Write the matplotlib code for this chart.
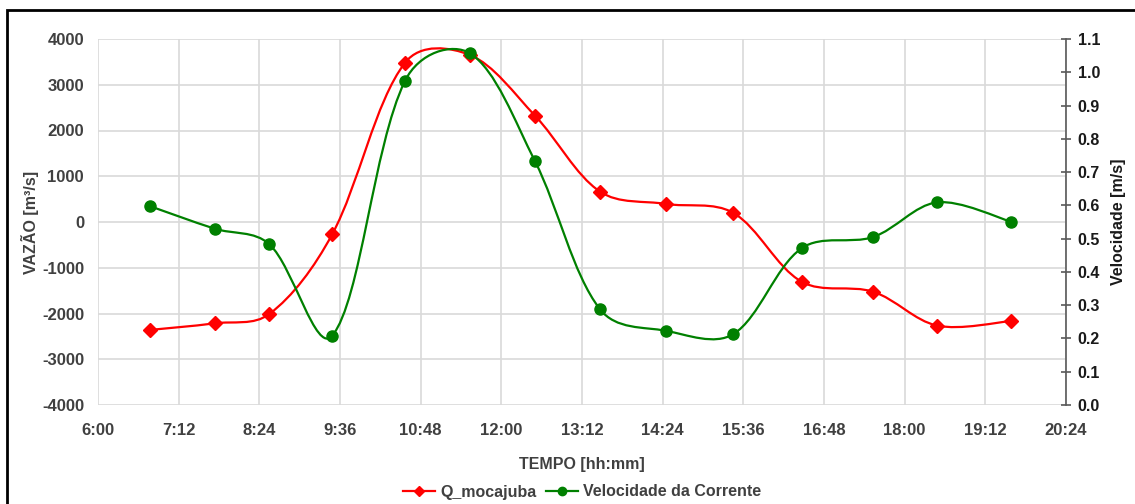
import matplotlib
matplotlib.use("Agg")
import matplotlib.pyplot as plt
import numpy as np
from matplotlib.path import Path
from matplotlib.patches import PathPatch, Rectangle
from matplotlib.lines import Line2D

plt.rcParams['font.family'] = ['Liberation Sans', 'DejaVu Sans']
plt.rcParams['axes.unicode_minus'] = False

# data
horarios = ["6:46", "7:44", "8:33", "9:29", "10:34", "11:32", "12:30",
            "13:28", "14:27", "15:27", "16:28", "17:32", "18:29", "19:35"]
q_mocajuba = [-2360, -2215, -2010, -270, 3480, 3650, 2325,
              665, 395, 200, -1305, -1525, -2265, -2165]
velocidade = [0.598, 0.530, 0.483, 0.208, 0.974, 1.057, 0.733,
              0.288, 0.223, 0.213, 0.471, 0.505, 0.609, 0.551]
xticks_lbl = ["6:00", "7:12", "8:24", "9:36", "10:48", "12:00", "13:12",
              "14:24", "15:36", "16:48", "18:00", "19:12", "20:24"]


def to_hours(s):
    h, m = s.split(":")
    return int(h) + int(m) / 60.0


def smooth_path(axis, x, y, w=0.67):
    # excel-like smoothed line: bezier through the points, tangents
    # partly weighted by segment lengths measured on screen
    p = axis.transData.transform(np.column_stack([x, y]))
    n = len(p)
    verts = [p[0]]
    codes = [Path.MOVETO]
    for i in range(n - 1):
        p0 = p[i - 1] if i > 0 else p[i]
        p1 = p[i]
        p2 = p[i + 1]
        p3 = p[i + 2] if i + 2 < n else p[i + 1]
        d01 = np.hypot(*(p1 - p0))
        d12 = np.hypot(*(p2 - p1))
        d23 = np.hypot(*(p3 - p2))
        f1 = d12 / (d01 + d12) if d01 > 0 else 0.5
        f2 = d12 / (d12 + d23) if d23 > 0 else 0.5
        f1 = w * f1 + (1 - w) * 0.5
        f2 = w * f2 + (1 - w) * 0.5
        verts += [p1 + (p2 - p0) * f1 / 3.0, p2 - (p3 - p1) * f2 / 3.0, p2]
        codes += [Path.CURVE4] * 3
    verts = axis.transData.inverted().transform(np.array(verts))
    return Path(verts, codes)


t = [to_hours(s) for s in horarios]
xt = [to_hours(s) for s in xticks_lbl]

red = "#ff0000"
green = "#008000"
txt = "#404040"

fig = plt.figure(figsize=(11.35, 5.04), dpi=100)
ax = fig.add_axes([98 / 1135, 99 / 504, 968 / 1135, 366 / 504])
ax2 = ax.twinx()

ax.set_xlim(6.0, 20.4)
ax.set_ylim(-4000, 4000)
ax2.set_ylim(0, 1.1)

ax.set_xticks(xt)
ax.set_xticklabels(xticks_lbl)
ax.set_yticks(np.arange(-4000, 4001, 1000))
ax2.set_yticks(np.arange(0, 1.11, 0.1))
ax2.set_yticklabels(["%.1f" % v for v in np.arange(0, 1.11, 0.1)])

ax.grid(True, color="#d9d9d9", linewidth=1.2)
ax.set_axisbelow(True)
for sp in ax.spines.values():
    sp.set_visible(False)
for sp in ax2.spines.values():
    sp.set_visible(False)
ax2.spines['right'].set_visible(True)
ax2.spines['right'].set_color("#595959")
ax2.spines['right'].set_linewidth(1.2)

ax.tick_params(axis='both', length=0, pad=10, labelsize=12, labelcolor=txt)
ax.tick_params(axis='x', pad=13)
ax2.tick_params(axis='y', direction='inout', length=7, width=1.2, color="#595959",
                labelsize=11.5, labelcolor="#1a1a1a", pad=5)
for lbl in ax.get_xticklabels() + ax.get_yticklabels() + ax2.get_yticklabels():
    lbl.set_fontweight("bold")

# smoothed lines
ax.add_patch(PathPatch(smooth_path(ax, t, q_mocajuba), facecolor="none",
                       edgecolor=red, linewidth=1.6, zorder=3))
ax.plot(t, q_mocajuba, linestyle="none", marker="D", markersize=7,
        color=red, zorder=4)
ax2.add_patch(PathPatch(smooth_path(ax2, t, velocidade), facecolor="none",
                        edgecolor=green, linewidth=1.6, zorder=3))
ax2.plot(t, velocidade, linestyle="none", marker="o", markersize=8,
         color=green, zorder=4)

ax.set_xlabel("TEMPO [hh:mm]", fontsize=11.5, fontweight="bold", color=txt, labelpad=14)
ax.set_ylabel("VAZÃO [m³/s]", fontsize=11.5, fontweight="bold", color=txt, labelpad=2)
ax2.set_ylabel("Velocidade [m/s]", fontsize=11.5, fontweight="bold", color="#1a1a1a",
               labelpad=8)

handles = [Line2D([], [], color=red, marker="D", markersize=5, linewidth=1.6),
           Line2D([], [], color=green, marker="o", markersize=6, linewidth=1.6)]
leg = fig.legend(handles, ["Q_mocajuba", "Velocidade da Corrente"], loc="center",
                 bbox_to_anchor=(582 / 1135, 12 / 504), ncol=2, frameon=False,
                 handlelength=2.0, handletextpad=0.3, columnspacing=0.6,
                 prop={"size": 11.5, "weight": "bold"})
for tx in leg.get_texts():
    tx.set_color(txt)

# outer chart frame (cut off at right and bottom in the original)
fig.patches.append(Rectangle((7 / 1135, -0.05), 1.2, (494 / 504) + 0.05,
                             transform=fig.transFigure, fill=False,
                             edgecolor="black", linewidth=2))

fig.savefig("out.png", dpi=100)
